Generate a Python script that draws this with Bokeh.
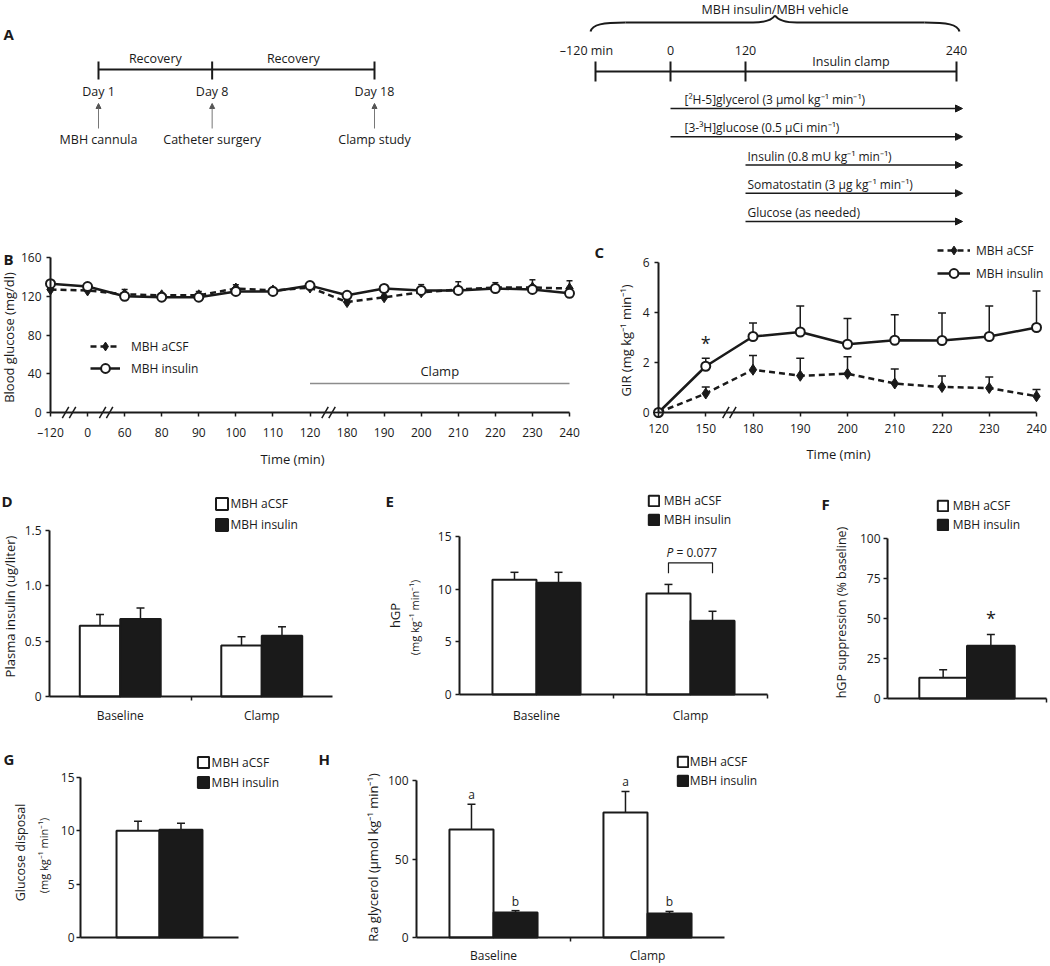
import numpy as np
from bokeh.plotting import figure
from bokeh.models import (Range1d, FixedTicker, Whisker, TeeHead, ColumnDataSource,
                          Legend, LegendItem, Label, Arrow, NormalHead)
from bokeh.layouts import column, row
from bokeh.core.properties import value
from bokeh.embed import file_html
from bokeh.resources import INLINE

FONT = "Open Sans"
INK = "#1a1a1a"
GREY = "#8c8c8c"

# ---------------- data ----------------
# A: protocol
DAYS = [1, 8, 18]
DAY_LABELS = ["Day 1", "Day 8", "Day 18"]
DAY_EVENTS = ["MBH cannula", "Catheter surgery", "Clamp study"]
PHASES = ["Recovery", "Recovery"]
TL_MIN = [-120, 0, 120, 240]
TL_LABELS = ["\u2013120 min", "0", "120", "240"]
TREATMENT = "MBH insulin/MBH vehicle"
CLAMP_PERIOD = "Insulin clamp"
INFUSIONS = ["[\u00b2H-5]glycerol (3 \u03bcmol kg\u207b\u00b9 min\u207b\u00b9)",
             "[3-\u00b3H]glucose (0.5 \u03bcCi min\u207b\u00b9)",
             "Insulin (0.8 mU kg\u207b\u00b9 min\u207b\u00b9)",
             "Somatostatin (3 \u03bcg kg\u207b\u00b9 min\u207b\u00b9)",
             "Glucose (as needed)"]
INF_START = [0, 0, 120, 120, 120]
INF_END = [240, 240, 240, 240, 240]

GROUPS = ["MBH aCSF", "MBH insulin"]
PERIODS = ["Baseline", "Clamp"]

# B: blood glucose (mg/dl)
B_TIME = ["\u2013120", "0", "60", "80", "90", "100", "110", "120", "180", "190", "200", "210", "220", "230", "240"]
B_ACSF = [127, 126, 122, 121, 121, 128, 126, 129, 114, 119, 124, 127, 129, 129, 128]
B_ACSF_ERR = [2, 3, 5, 2, 4, 4, 3, 2, 2, 2, 8, 8, 5, 8, 8]
B_INS = [133, 130, 120, 119, 119, 125, 125, 131, 121, 128, 126, 126, 128, 127, 123]
B_INS_ERR = [3, 3, 3, 2, 2, 3, 3, 2, 2, 2, 3, 4, 3, 4, 5]
B_BREAK_AFTER = ["\u2013120", "0", "120"]
B_CLAMP = ("120", "240")
B_CLAMP_Y = 30

# C: GIR (mg kg-1 min-1)
C_TIME = ["120", "150", "180", "190", "200", "210", "220", "230", "240"]
C_ACSF = [0, 0.76, 1.71, 1.47, 1.55, 1.16, 1.02, 0.98, 0.65]
C_ACSF_ERR = [0, 0.26, 0.57, 0.70, 0.68, 0.58, 0.44, 0.44, 0.27]
C_INS = [0, 1.85, 3.04, 3.22, 2.73, 2.89, 2.88, 3.04, 3.40]
C_INS_ERR = [0, 0.32, 0.54, 1.04, 1.03, 1.02, 1.10, 1.22, 1.46]
C_BREAK_AFTER = ["150"]
C_SIG = ["150"]

# D: plasma insulin (ug/liter)
D_ACSF = [0.64, 0.46]
D_ACSF_ERR = [0.10, 0.08]
D_INS = [0.70, 0.55]
D_INS_ERR = [0.10, 0.08]

# E: hGP (mg kg-1 min-1)
E_ACSF = [10.9, 9.6]
E_ACSF_ERR = [0.7, 0.85]
E_INS = [10.6, 7.0]
E_INS_ERR = [1.0, 0.9]
E_P_TEXT = "= 0.077"
E_P_Y = 12.5

# F: hGP suppression (% baseline)
F_ACSF = [13]
F_ACSF_ERR = [5]
F_INS = [33]
F_INS_ERR = [7]

# G: glucose disposal (mg kg-1 min-1)
G_ACSF = [10.0]
G_ACSF_ERR = [0.9]
G_INS = [10.1]
G_INS_ERR = [0.6]

# H: Ra glycerol (umol kg-1 min-1)
H_ACSF = [68.8, 79.6]
H_ACSF_ERR = [16.0, 13.4]
H_INS = [15.9, 15.3]
H_INS_ERR = [1.2, 1.3]
H_ACSF_LET = ["a", "a"]
H_INS_LET = ["b", "b"]


# ---------------- helpers ----------------
def panel(ox, oy, w, h, ax_l, ax_r, ax_t, ax_b, x0, x1, y0, y1):
    """Figure whose frame fills the whole canvas; axes are pinned inside it."""
    kx = (x1 - x0) / (ax_r - ax_l)
    ky = (y1 - y0) / (ax_b - ax_t)

    def fx(X):
        return x0 + (X - ax_l) * kx

    def fy(Y):
        return y0 + (ax_b - Y) * ky

    p = figure(width=w, height=h, output_backend="svg", toolbar_location=None,
               x_range=Range1d(fx(ox), fx(ox + w)), y_range=Range1d(fy(oy + h), fy(oy)),
               min_border=0, min_border_left=0, min_border_right=0,
               min_border_top=0, min_border_bottom=0)
    p.outline_line_color = None
    p.grid.visible = False
    geo = dict(fx=fx, fy=fy, kx=kx, ky=ky, fl=ox, fb=oy + h,
               x0=x0, x1=x1, y0=y0, y1=y1)
    return p, geo


def _key(t):
    t = float(t)
    return int(t) if t.is_integer() else t


def axes(p, geo, xt, xl, yt, yl, xminor=(), xstand=8, ystand=5, xtick=4, fs="12px"):
    xa, ya = p.xaxis[0], p.yaxis[0]
    xa.ticker = FixedTicker(ticks=[float(t) for t in xt], minor_ticks=[float(t) for t in xminor])
    xa.major_label_overrides = {_key(t): s for t, s in zip(xt, xl)}
    ya.ticker = FixedTicker(ticks=[float(t) for t in yt])
    ya.major_label_overrides = {_key(t): s for t, s in zip(yt, yl)}
    for a in (xa, ya):
        a.axis_line_color = INK
        a.axis_line_width = 2
        a.major_tick_line_color = INK
        a.major_tick_line_width = 1.5
        a.minor_tick_line_color = INK
        a.minor_tick_line_width = 1.5
        a.major_tick_in = 0
        a.minor_tick_in = 0
        a.major_label_text_font = FONT
        a.major_label_text_font_size = fs
        a.major_label_text_color = INK
    xa.major_tick_out = xtick
    xa.minor_tick_out = 4 if len(xminor) else 0
    ya.major_tick_out = 4
    ya.minor_tick_out = 0
    xa.major_label_standoff = xstand
    ya.major_label_standoff = ystand
    xa.fixed_location = geo["y0"]
    ya.fixed_location = geo["x0"]
    xa.bounds = (geo["x0"], geo["x1"])
    ya.bounds = (geo["y0"], geo["y1"])


def whisk(p, xs, means, errs, head=7, lw=1.5):
    xs = np.asarray(xs, float)
    m = np.asarray(means, float)
    e = np.asarray(errs, float)
    keep = e > 0
    src = ColumnDataSource(dict(x=xs[keep], lo=m[keep], hi=(m + e)[keep]))
    p.add_layout(Whisker(source=src, base="x", lower="lo", upper="hi", dimension="height",
                         line_color=INK, line_width=lw,
                         upper_head=TeeHead(size=head, line_color=INK, line_width=lw),
                         lower_head=None))


def bars(p, acsf, acsf_err, ins, ins_err, bw):
    centers = np.arange(len(acsf)) + 0.5
    xa = centers - bw / 2
    xi = centers + bw / 2
    whisk(p, xa, acsf, acsf_err, head=8)
    whisk(p, xi, ins, ins_err, head=8)
    ra = p.vbar(x=xa, top=acsf, width=bw, bottom=0, fill_color="white", line_color=INK, line_width=2)
    ri = p.vbar(x=xi, top=ins, width=bw, bottom=0, fill_color=INK, line_color=INK, line_width=2)
    return ra, ri, xa, xi


def legend(p, geo, rends, glyph_left, row1_cy, pitch, gw, gh, text_left, row_h=17, fs="12px"):
    spacing = int(round(pitch - row_h))
    n = len(rends)
    top = row1_cy - row_h / 2
    bottom = top + n * row_h + (n - 1) * spacing
    items = [LegendItem(label=GROUPS[i], renderers=list(r)) for i, r in enumerate(rends)]
    leg = Legend(items=items, location=(glyph_left - geo["fl"], geo["fb"] - bottom),
                 glyph_width=gw, glyph_height=gh, label_height=row_h, label_width=10,
                 label_standoff=int(round(text_left - glyph_left - gw)), spacing=spacing,
                 padding=0, margin=0, border_line_alpha=0, background_fill_alpha=0,
                 label_text_font=FONT, label_text_font_size=fs, label_text_color=INK,
                 label_text_baseline="middle")
    p.add_layout(leg)


def lab(p, geo, px, py, text, fs="13px", vertical=False, bold=False, align="center"):
    p.add_layout(Label(x=geo["fx"](px), y=geo["fy"](py), text=text,
                       angle=np.pi / 2 if vertical else 0,
                       text_align=align, text_baseline="middle", text_font=FONT,
                       text_font_size=fs, text_color=INK,
                       text_font_style="bold" if bold else "normal"))


def letter(p, geo, px, py, t):
    lab(p, geo, px, py, t, fs="15px", bold=True, align="left")


def breaks(p, geo, xs):
    d = 3.5 * geo["kx"]
    pts = [x + s * d for x in xs for s in (-1, 1)]
    p.scatter(pts, [geo["y0"]] * len(pts), marker="dash", size=13, angle=1.05,
              line_color=INK, line_width=1.5)


def txt(p, x, y, t, fs="12px", align="center", base="middle", **kw):
    p.text(x=x, y=y, text=t, text_align=align, text_baseline=base,
           text_font=value(FONT), text_font_size=fs, text_color=INK, **kw)


# ---------------- A ----------------
pA = figure(width=1050, height=240, x_range=Range1d(0, 1050), y_range=Range1d(240, 0),
            output_backend="svg", toolbar_location=None, x_axis_location=None,
            y_axis_location=None, min_border=0, min_border_left=0, min_border_right=0,
            min_border_top=0, min_border_bottom=0)
pA.outline_line_color = None
pA.grid.visible = False
pA.add_layout(Label(x=3, y=33, text="A", text_font=FONT, text_font_size="15px",
                    text_font_style="bold", text_baseline="middle", text_color=INK))


def day_x(d):
    return 98 + (np.asarray(d, float) - DAYS[0]) * (374 - 98) / (DAYS[-1] - DAYS[0])


dx = day_x(DAYS)
TL1 = 69
pA.line(x=[dx[0], dx[-1]], y=[TL1, TL1], line_width=2, line_color=INK)
pA.segment(x0=dx, y0=[TL1 - 8] * len(dx), x1=dx, y1=[TL1 + 10] * len(dx), line_width=2, line_color=INK)
txt(pA, list((dx[:-1] + dx[1:]) / 2), [TL1 - 11] * len(PHASES), PHASES, fs="12.5px")
txt(pA, list(dx), [TL1 + 22] * len(dx), DAY_LABELS, fs="12.5px")
for x in dx:
    pA.add_layout(Arrow(x_start=x, y_start=TL1 + 59, x_end=x, y_end=TL1 + 34,
                        end=NormalHead(size=5, fill_color="#555555", line_color="#555555"),
                        line_color="#777777", line_width=1))
txt(pA, list(dx), [TL1 + 70] * len(dx), DAY_EVENTS, fs="12.5px")


def t_x(m):
    return np.interp(m, [TL_MIN[0], TL_MIN[2], TL_MIN[-1]], [595, 745, 956])


tx = t_x(TL_MIN)
TL2 = 71
pA.line(x=[tx[0], tx[-1]], y=[TL2, TL2], line_width=2, line_color=INK)
pA.segment(x0=tx, y0=[TL2 - 10] * len(tx), x1=tx, y1=[TL2 + 10] * len(tx), line_width=2, line_color=INK)
txt(pA, [tx[0]], [TL2 - 21], TL_LABELS[:1], fs="12.5px", x_offset=-9)
txt(pA, list(tx[1:]), [TL2 - 21] * (len(tx) - 1), TL_LABELS[1:], fs="12.5px")
txt(pA, [(tx[2] + tx[3]) / 2], [TL2 - 10], [CLAMP_PERIOD], fs="12.5px")

# brace over the whole protocol
xl, xr = tx[0] - 5, tx[-1] + 3
xm = (xl + xr) / 2
yE, yF, yT = 31, 22, 15
pA.bezier(x0=[xl, xm - 22, xr, xm + 22], y0=[yE, yF, yE, yF],
          x1=[xl + 35, xm, xr - 35, xm], y1=[yF, yT, yF, yT],
          cx0=[xl + 2, xm - 8, xr - 2, xm + 8], cy0=[yF + 2, yF, yF + 2, yF],
          cx1=[xl + 12, xm - 2, xr - 12, xm + 2], cy1=[yF, yT + 3, yF, yT + 3],
          line_width=2, line_color=INK)
pA.segment(x0=[xl + 35, xm + 22], y0=[yF, yF], x1=[xm - 22, xr - 35], y1=[yF, yF],
           line_width=2, line_color=INK)
txt(pA, [xm], [9], [TREATMENT], fs="12.5px")

for i, t in enumerate(INFUSIONS):
    ya_ = 108 + 28.25 * i
    xs_ = float(t_x(INF_START[i]))
    xe_ = float(t_x(INF_END[i])) + 6
    pA.add_layout(Arrow(x_start=xs_, y_start=ya_, x_end=xe_, y_end=ya_,
                        end=NormalHead(size=7, fill_color=INK, line_color=INK),
                        line_color=INK, line_width=1.5))
    indent = 14 if INF_START[i] == TL_MIN[1] else 2
    txt(pA, [xs_ + indent], [ya_ - 9], [t], fs="12px", align="left")

# ---------------- B ----------------
nB = len(B_TIME)
pB, gB = panel(0, 240, 590, 236, 50, 569, 257, 412, 0, nB - 1, 0, 160)
bx = np.arange(nB)
axes(pB, gB, bx, B_TIME, [0, 40, 80, 120, 160], ["0", "40", "80", "120", "160"], xstand=7)
whisk(pB, bx, B_ACSF, B_ACSF_ERR, head=6)
whisk(pB, bx, B_INS, B_INS_ERR, head=6)
laB = pB.line(bx, B_ACSF, line_color=INK, line_width=2.5, line_dash="6 4")
maB = pB.scatter(bx, B_ACSF, marker="diamond", size=11, fill_color=INK, line_color=INK)
liB = pB.line(bx, B_INS, line_color=INK, line_width=2.5)
miB = pB.scatter(bx, B_INS, marker="circle", size=9, fill_color="white", line_color=INK, line_width=2)
breaks(pB, gB, [B_TIME.index(t) + 0.5 for t in B_BREAK_AFTER])
c0, c1 = B_TIME.index(B_CLAMP[0]), B_TIME.index(B_CLAMP[1])
pB.line([c0, c1], [B_CLAMP_Y, B_CLAMP_Y], line_color=GREY, line_width=1.5)
txt(pB, [(c0 + c1) / 2], [B_CLAMP_Y], ["Clamp"], fs="13px", y_offset=-12)
legend(pB, gB, [(laB, maB), (liB, miB)], 90, 346, 22, 30, 22, 131, row_h=22)
lab(pB, gB, 8, 337, "Blood glucose (mg/dl)", vertical=True)
lab(pB, gB, 292, 458, "Time (min)")
letter(pB, gB, 3, 258, "B")

# ---------------- C ----------------
nC = len(C_TIME)
pC, gC = panel(590, 240, 460, 236, 658, 1036, 262, 412, 0, nC - 1, 0, 6)
cx = np.arange(nC)
axes(pC, gC, cx, C_TIME, [0, 2, 4, 6], ["0", "2", "4", "6"], xstand=7)
whisk(pC, cx, C_ACSF, C_ACSF_ERR, head=8)
whisk(pC, cx, C_INS, C_INS_ERR, head=8)
laC = pC.line(cx, C_ACSF, line_color=INK, line_width=2.5, line_dash="6 4")
maC = pC.scatter(cx, C_ACSF, marker="diamond", size=11, fill_color=INK, line_color=INK)
liC = pC.line(cx, C_INS, line_color=INK, line_width=2.5)
miC = pC.scatter(cx, C_INS, marker="circle", size=9, fill_color="white", line_color=INK, line_width=2)
breaks(pC, gC, [C_TIME.index(t) + 0.5 for t in C_BREAK_AFTER])
sig = [C_TIME.index(t) for t in C_SIG]
txt(pC, sig, [C_INS[i] + C_INS_ERR[i] for i in sig], ["*"] * len(sig), fs="18px", y_offset=-15)
legend(pC, gC, [(laC, maC), (liC, miC)], 937, 250, 23, 33, 22, 976, row_h=22)
lab(pC, gC, 625, 340, "GIR (mg kg\u207b\u00b9 min\u207b\u00b9)", vertical=True)
lab(pC, gC, 838, 453, "Time (min)")
letter(pC, gC, 594, 251, "C")

# ---------------- D ----------------
BW = 0.286
pD, gD = panel(0, 476, 345, 250, 49, 332, 530, 696, 0, 2, 0, 1.5)
axes(pD, gD, [0.5, 1.5], PERIODS, [0, 0.5, 1.0, 1.5], ["0", "0.5", "1.0", "1.5"],
     xminor=[1], xtick=0, xstand=6, ystand=4)
rDa, rDi, _, _ = bars(pD, D_ACSF, D_ACSF_ERR, D_INS, D_INS_ERR, BW)
legend(pD, gD, [(rDa,), (rDi,)], 213.5, 503, 21, 15, 15, 231)
lab(pD, gD, 9, 606, "Plasma insulin (ug/liter)", vertical=True)
letter(pD, gD, 1, 500, "D")

# ---------------- E ----------------
pE, gE = panel(345, 476, 455, 250, 459, 767, 536, 694, 0, 2, 0, 15)
axes(pE, gE, [0.5, 1.5], PERIODS, [0, 5, 10, 15], ["0", "5", "10", "15"],
     xminor=[1, 2], xtick=0, xstand=8, ystand=4)
rEa, rEi, exa, exi = bars(pE, E_ACSF, E_ACSF_ERR, E_INS, E_INS_ERR, BW)
bl, br = exa[1], exi[1]
pE.line([bl, bl, br, br], [E_P_Y - 1, E_P_Y, E_P_Y, E_P_Y - 1], line_color=INK, line_width=1.2)
txt(pE, [1.5], [E_P_Y], ["P"], align="left", x_offset=-24, y_offset=-10, text_font_style="italic")
txt(pE, [1.5], [E_P_Y], [E_P_TEXT], align="left", x_offset=-14, y_offset=-10)
legend(pE, gE, [(rEa,), (rEi,)], 646.7, 500, 18.5, 13, 13, 664)
lab(pE, gE, 394, 615, "hGP", vertical=True)
lab(pE, gE, 414, 617, "(mg kg\u207b\u00b9 min\u207b\u00b9)", fs="11px", vertical=True)
letter(pE, gE, 385, 500, "E")

# ---------------- F ----------------
BWF = 0.3
pF, gF = panel(800, 476, 250, 250, 887, 1046, 538, 698, 0, 1, 0, 100)
axes(pF, gF, [], [], [0, 25, 50, 75, 100], ["0", "25", "50", "75", "100"],
     xminor=[1], xtick=0, ystand=3)
rFa, rFi, fxa, fxi = bars(pF, F_ACSF, F_ACSF_ERR, F_INS, F_INS_ERR, BWF)
txt(pF, list(fxi), [F_INS[0] + F_INS_ERR[0]], ["*"], fs="18px", y_offset=-17)
legend(pF, gF, [(rFa,), (rFi,)], 935.7, 505, 18.5, 13, 13, 953)
lab(pF, gF, 841, 612, "hGP suppression (% baseline)", fs="12.5px", vertical=True)
letter(pF, gF, 821, 503, "F")

# ---------------- G ----------------
BWG = 0.272
pG, gG = panel(0, 726, 310, 239, 80, 238, 777, 937, 0, 1, 0, 15)
axes(pG, gG, [], [], [0, 5, 10, 15], ["0", "5", "10", "15"], xtick=0, ystand=2)
rGa, rGi, _, _ = bars(pG, G_ACSF, G_ACSF_ERR, G_INS, G_INS_ERR, BWG)
legend(pG, gG, [(rGa,), (rGi,)], 195.6, 762, 20, 14, 14, 212)
lab(pG, gG, 20, 852, "Glucose disposal", fs="12.5px", vertical=True)
lab(pG, gG, 43, 855, "(mg kg\u207b\u00b9 min\u207b\u00b9)", fs="11px", vertical=True)
letter(pG, gG, 3, 758, "G")

# ---------------- H ----------------
pH, gH = panel(310, 726, 740, 239, 416, 724, 780, 937, 0, 2, 0, 100)
axes(pH, gH, [0.5, 1.5], PERIODS, [0, 50, 100], ["0", "50", "100"],
     xminor=[1], xtick=0, xstand=5, ystand=4)
rHa, rHi, hxa, hxi = bars(pH, H_ACSF, H_ACSF_ERR, H_INS, H_INS_ERR, BW)
txt(pH, list(hxa), list(np.add(H_ACSF, H_ACSF_ERR)), H_ACSF_LET, base="bottom", y_offset=-1)
txt(pH, list(hxi), list(np.add(H_INS, H_INS_ERR)), H_INS_LET, base="bottom", y_offset=-1)
legend(pH, gH, [(rHa,), (rHi,)], 675.7, 761, 19, 13, 13, 690)
lab(pH, gH, 372, 857, "Ra glycerol (\u03bcmol kg\u207b\u00b9 min\u207b\u00b9)", vertical=True)
letter(pH, gH, 318, 758, "H")

layout = column(pA, row(pB, pC), row(pD, pE, pF), row(pG, pH))
open("out.html", "w").write(file_html(layout, INLINE, "MBH insulin clamp"))
